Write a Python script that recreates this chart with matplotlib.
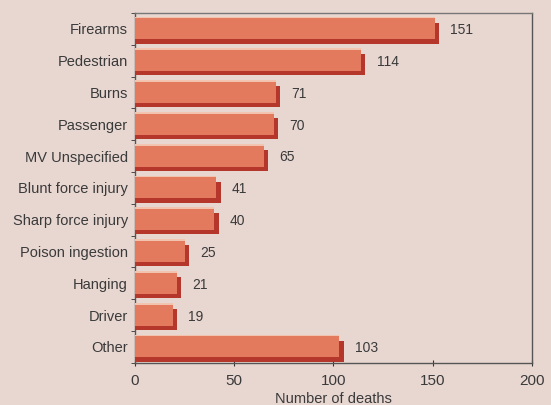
import matplotlib
matplotlib.use("Agg")
import matplotlib.pyplot as plt
import matplotlib.patheffects as pe
import numpy as np

categories = ["Firearms", "Pedestrian", "Burns", "Passenger", "MV Unspecified",
              "Blunt force injury", "Sharp force injury", "Poison ingestion",
              "Hanging", "Driver", "Other"]
deaths = [151, 114, 71, 70, 65, 41, 40, 25, 21, 19, 103]
xticks = [0, 50, 100, 150, 200]

bg = "#E8D7D1"
face = "#E47A5D"
shadow = "#B5362B"
highlight = "#F2C3AF"

plt.rcParams["font.family"] = ["Liberation Sans", "DejaVu Sans"]

fig = plt.figure(figsize=(5.51, 4.05), dpi=100, facecolor=bg)
ax = fig.add_axes([0.245, 0.104, 0.7205, 0.864], facecolor=bg)

y = np.arange(len(categories))
bars = ax.barh(y, deaths, height=0.66, color=face, edgecolor="none", zorder=3)
for b in bars:
    b.set_path_effects([
        pe.SimplePatchShadow(offset=(0, 1.3), shadow_rgbFace=highlight, alpha=1.0),
        pe.SimplePatchShadow(offset=(0, -3.0), shadow_rgbFace=shadow, alpha=1.0),
        pe.SimplePatchShadow(offset=(3.0, -3.0), shadow_rgbFace=shadow, alpha=1.0),
        pe.Normal(),
    ])

for yi, v in zip(y, deaths):
    ax.annotate(str(v), xy=(v, yi), xytext=(11, -1), textcoords="offset points",
                va="center", ha="left", fontsize=10, color="#3a3a3a")

ax.set_xlim(0, 200)
ax.set_ylim(len(categories) - 0.5, -0.5)
ax.set_xticks(xticks)
ax.set_xticklabels([str(t) for t in xticks], fontsize=11, color="#3a3a3a")
ax.set_yticks(y)
ax.set_yticklabels(categories, fontsize=10.5, color="#3a3a3a")
ax.tick_params(axis="y", length=0, pad=5)
ax.set_yticks(np.arange(len(categories) + 1) - 0.5, minor=True)
ax.tick_params(axis="y", which="minor", length=3, direction="out", color="#333333")
ax.tick_params(axis="x", length=4, direction="inout", color="#333333", pad=6)
ax.set_xlabel("Number of deaths", fontsize=10.5, color="#3a3a3a", labelpad=3)

for s in ax.spines.values():
    s.set_color("#555555")
    s.set_linewidth(1.0)
ax.spines["top"].set_color("#777777")

fig.savefig("out.png", dpi=100, facecolor=bg)
